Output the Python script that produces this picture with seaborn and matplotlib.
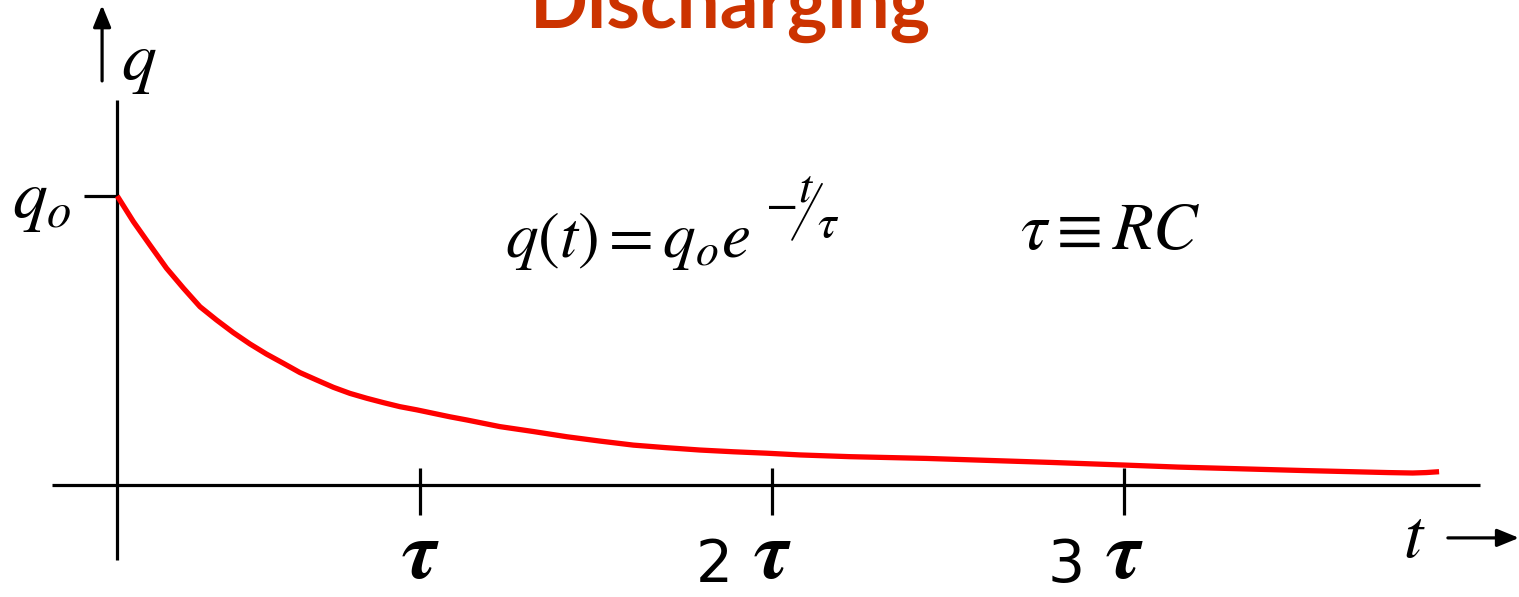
import matplotlib
matplotlib.use("Agg")
import matplotlib.pyplot as plt
import seaborn as sns
import pandas as pd

# Discharge curve of a capacitor, q in units of q_o, t in units of tau
t_vals = [0.14, 0.186, 0.233, 0.280, 0.328, 0.375, 0.422, 0.470, 0.517, 0.564,
          0.612, 0.659, 0.707, 0.754, 0.801, 0.849, 0.896, 0.943, 0.991, 1.038,
          1.085, 1.133, 1.227, 1.322, 1.417, 1.511, 1.606, 1.701, 1.795, 1.890,
          1.985, 2.080, 2.222, 2.438, 2.616, 2.795, 3.0, 3.153, 3.273, 3.511,
          3.75, 3.82, 3.858, 3.895]
q_vals = [1.0, 0.911, 0.830, 0.750, 0.681, 0.617, 0.571, 0.527, 0.488, 0.453,
          0.421, 0.389, 0.363, 0.338, 0.317, 0.300, 0.285, 0.271, 0.260, 0.248,
          0.236, 0.225, 0.202, 0.185, 0.167, 0.152, 0.138, 0.129, 0.121, 0.115,
          0.110, 0.104, 0.098, 0.092, 0.085, 0.078, 0.069, 0.062, 0.058, 0.050,
          0.043, 0.0415, 0.043, 0.046]

tick_values = [1, 2, 3]
tick_prefixes = ["", "2", "3"]
title_text = "Discharging"

sns.set_theme(style="white")
plt.rcParams["font.family"] = ["DejaVu Sans"]
plt.rcParams["text.color"] = "black"
plt.rcParams["mathtext.fontset"] = "stix"

fig = plt.figure(figsize=(15.19, 5.97), dpi=100)
ax = fig.add_axes([0, 0, 1, 1])
ax.set_xlim(-0.193, 4.122)
ax.set_ylim(-0.3875, 1.678)
ax.set_axis_off()

df = pd.DataFrame({"t": t_vals, "q": q_vals})
sns.lineplot(data=df, x="t", y="q", ax=ax, color="#ff0000", lw=3.8,
             sort=False, estimator=None, solid_capstyle="butt", zorder=3)

ink = "black"
axis_lw = 2.3
T_AXIS = 0.14

# horizontal (time) axis and vertical (charge) axis
ax.plot([-0.045, 4.011], [0, 0], color=ink, lw=axis_lw, solid_capstyle="butt")
ax.plot([T_AXIS, T_AXIS], [-0.26, 1.332], color=ink, lw=axis_lw, solid_capstyle="butt")

# q_o marker on the vertical axis
ax.plot([0.045, T_AXIS], [1, 1], color=ink, lw=axis_lw, solid_capstyle="butt")

# tau ticks and labels
for tv, pre in zip(tick_values, tick_prefixes):
    ax.plot([tv, tv], [-0.104, 0.059], color=ink, lw=axis_lw, solid_capstyle="butt")
    ax.text(tv, -0.245, r"$\mathbfit{\tau}$", ha="center", va="center", fontsize=58)
    if pre:
        ax.text(tv - 0.112, -0.336, pre, ha="right", va="baseline", fontsize=42,
                family=["DejaVu Sans"])

# small arrow beside the q label
ax.annotate("", xy=(0.097, 1.66), xytext=(0.097, 1.398),
            arrowprops=dict(arrowstyle="-|>,head_length=1.1,head_width=0.45",
                            color=ink, lw=2.3, shrinkA=0, shrinkB=0))
ax.text(0.151, 1.40, r"$q$", ha="left", va="baseline", fontsize=50)

# q_o label
ax.text(-0.159, 0.924, r"$q_o$", ha="left", va="baseline", fontsize=50)

# time label with arrow
ax.text(3.793, -0.25, r"$t$", ha="left", va="baseline", fontsize=50)
ax.annotate("", xy=(4.122, -0.183), xytext=(3.92, -0.183),
            arrowprops=dict(arrowstyle="-|>,head_length=1.1,head_width=0.45",
                            color=ink, lw=2.3, shrinkA=0, shrinkB=0))

# discharge law
ax.text(1.241, 0.789, r"$q(t) = q_o e$", ha="left", va="baseline", fontsize=47)
ax.text(2.025, 0.969, r"$-$", ha="center", va="center", fontsize=34)
ax.text(2.097, 1.025, r"$t$", ha="center", va="center", fontsize=34)
ax.plot([2.057, 2.142], [0.848, 1.042], color=ink, lw=1.3)
ax.text(2.158, 0.900, r"$\tau$", ha="center", va="center", fontsize=34)

# time constant
ax.text(2.705, 0.817, r"$\tau \equiv RC$", ha="left", va="baseline", fontsize=48)

# title, partly above the figure edge
ax.text(1.881, 1.581, title_text, ha="center", va="baseline", fontsize=55,
        fontweight="bold", color="#cc3300", family=["Lato", "DejaVu Sans"])

fig.savefig("out.png", dpi=100)
